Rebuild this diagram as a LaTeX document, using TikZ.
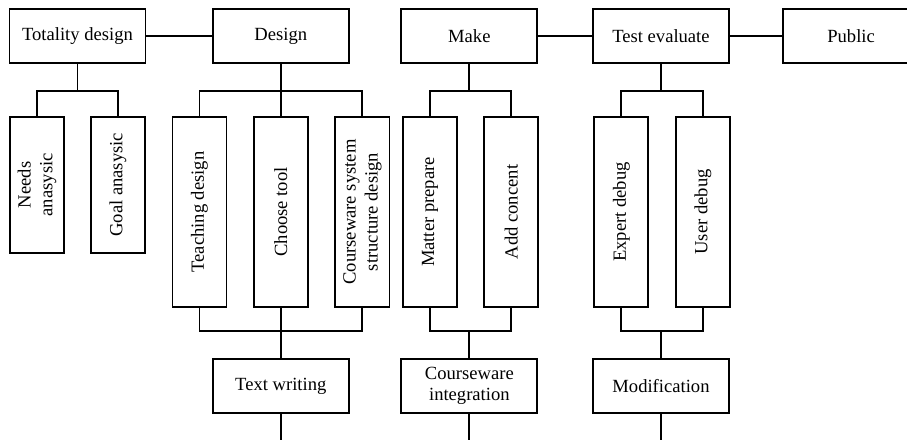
\documentclass[tikz,border=0pt]{standalone}
\usepackage{fontspec}
\setmainfont{Liberation Serif}
\usepackage{tikz}

\tikzset{
	box/.style={draw, line width=1.4pt, minimum width=3.6cm, minimum height=1.43cm, inner sep=2pt, align=center, font=\fontsize{14}{16.5}\selectfont},
	vbox/.style={box, rotate=90, minimum width=5.03cm, minimum height=1.43cm},
	sbox/.style={vbox, minimum width=3.6cm},
	link/.style={line width=1.4pt}
}

\begin{document}
\begin{tikzpicture}
			\useasboundingbox (0,0) rectangle (24,11.64);
			\node[box] (tot) at (2.05,10.69) {Totality design};
			\node[box] (des) at (7.43,10.69) {Design};
			\node[box] (mak) at (12.42,10.69) {Make};
			\node[box] (tst) at (17.49,10.69) {Test evaluate};
			\node[box] (pub) at (22.52,10.69) {Public};
			\node[sbox] (need) at (0.98,6.75) {Needs\\anasysic};
			\node[sbox] (goal) at (3.12,6.75) {Goal anasysic};
			\node[vbox] (teach) at (5.28,6.03) {Teaching design};
			\node[vbox] (tool) at (7.43,6.03) {Choose tool};
			\node[vbox] (sys) at (9.59,6.03) {Courseware system\\structure design};
			\node[vbox] (mat) at (11.38,6.03) {Matter prepare};
			\node[vbox] (add) at (13.53,6.03) {Add concent};
			\node[vbox] (exp) at (16.44,6.03) {Expert debug};
			\node[vbox] (usr) at (18.60,6.03) {User debug};
			\node[box] (txt) at (7.43,1.43) {Text writing};
			\node[box] (int) at (12.42,1.43) {Courseware\\integration};
			\node[box] (mod) at (17.49,1.43) {Modification};
			\draw[link] (tot) -- (des);
			\draw[link] (mak) -- (tst);
			\draw[link] (tst) -- (pub);
			\draw[link] (tot.south) -- ++(0,-0.715) coordinate (totb);
			\draw[link] (need.east) |- (totb) -| (goal.east);
			\draw[link] (des.south) -- ++(0,-0.715) coordinate (desb);
			\draw[link] (teach.east) |- (desb) -| (sys.east);
			\draw[link] (tool.east) -- (desb);
			\draw[link] (mak.south) -- ++(0,-0.715) coordinate (makb);
			\draw[link] (mat.east) |- (makb) -| (add.east);
			\draw[link] (tst.south) -- ++(0,-0.715) coordinate (tstb);
			\draw[link] (exp.east) |- (tstb) -| (usr.east);
			\draw[link] (txt.north) -- ++(0,0.715) coordinate (txtt);
			\draw[link] (teach.west) |- (txtt) -| (sys.west);
			\draw[link] (tool.west) -- (txtt);
			\draw[link] (int.north) -- ++(0,0.715) coordinate (intt);
			\draw[link] (mat.west) |- (intt) -| (add.west);
			\draw[link] (mod.north) -- ++(0,0.715) coordinate (modt);
			\draw[link] (exp.west) |- (modt) -| (usr.west);
			\draw[link] (txt.south) -- (txt.south |- 0,0);
			\draw[link] (int.south) -- (int.south |- 0,0);
			\draw[link] (mod.south) -- (mod.south |- 0,0);
		\end{tikzpicture}
\end{document}
